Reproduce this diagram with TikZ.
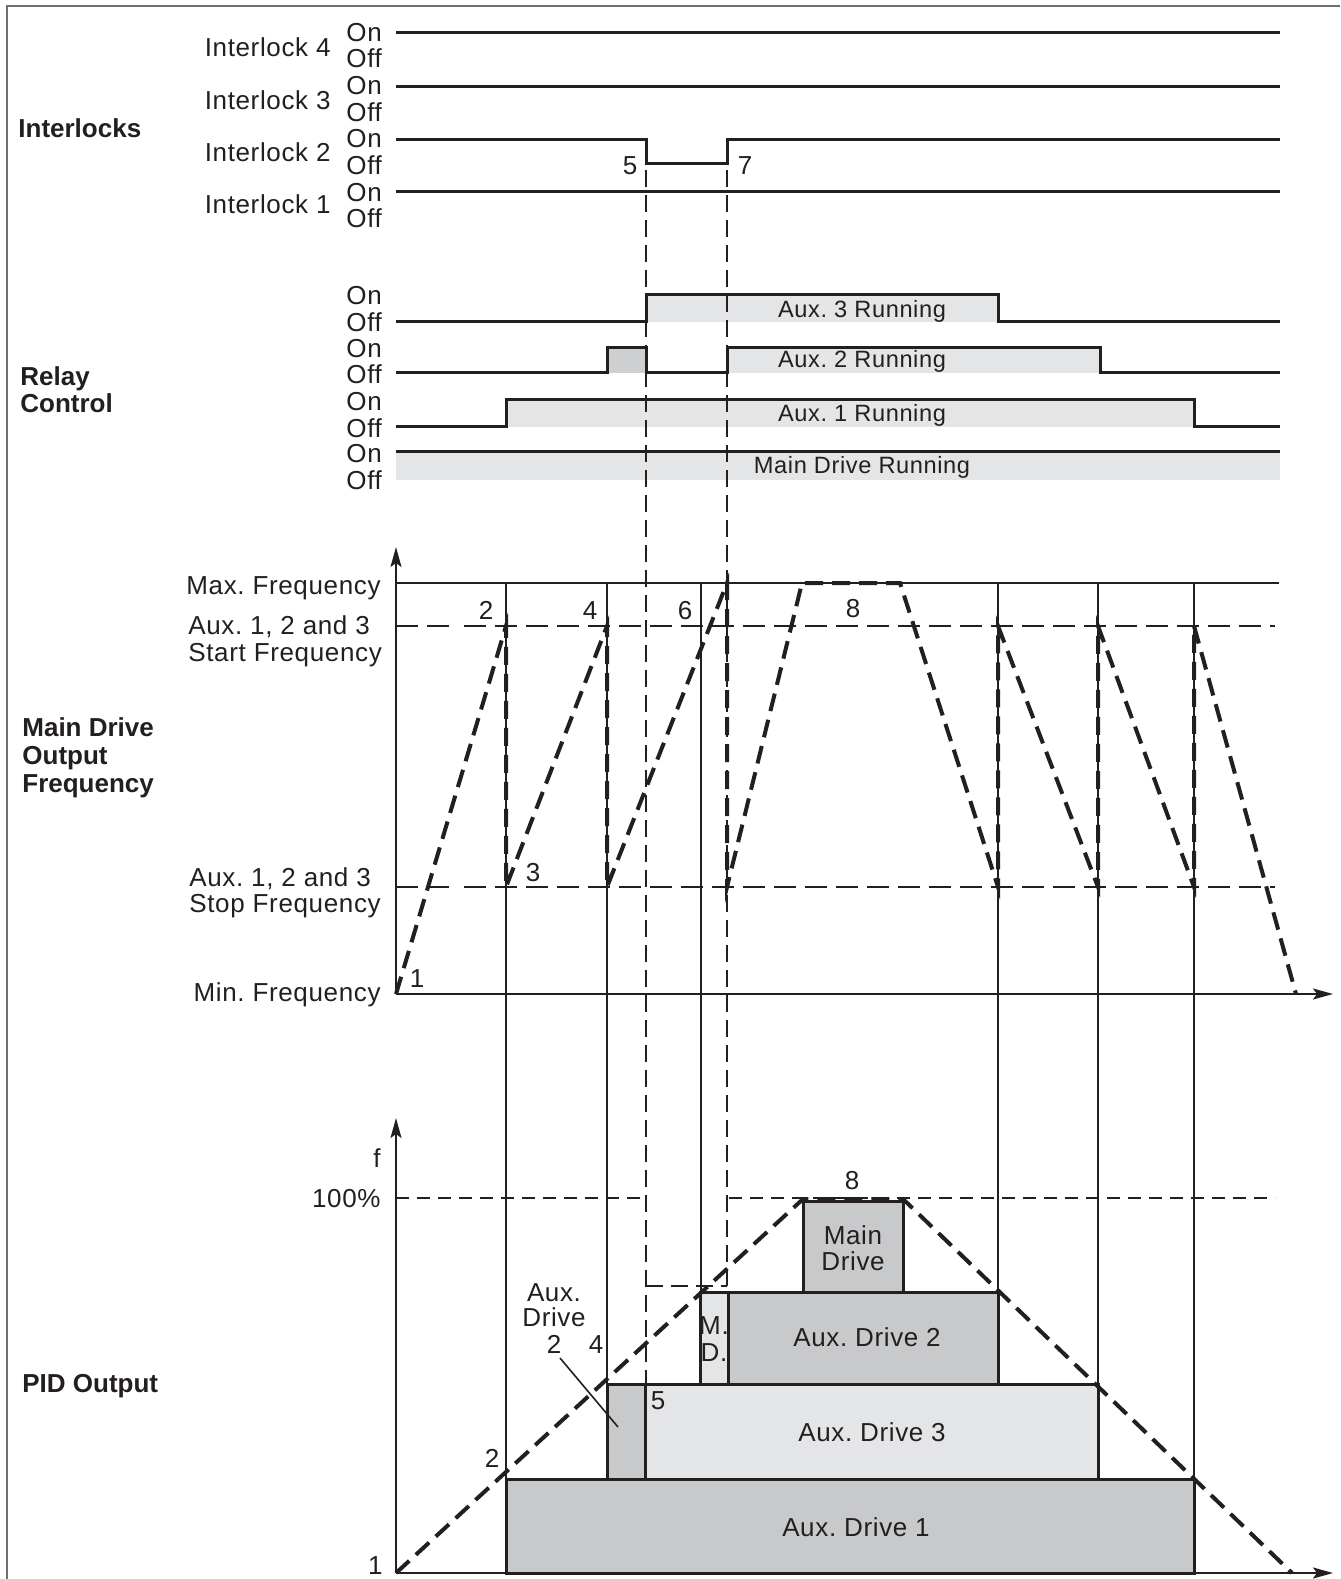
\documentclass[tikz,border=0pt]{standalone}
\usepackage{fontspec}
\setmainfont{Liberation Sans}[LetterSpace=2.5,BoldFeatures={LetterSpace=0}]
\usetikzlibrary{arrows.meta}
\definecolor{ink}{HTML}{231F20}
\definecolor{lgray}{HTML}{E4E5E7}
\definecolor{mgray}{HTML}{C8C9CB}
\definecolor{framec}{HTML}{6D6E70}
\begin{document}
\frenchspacing
\begin{tikzpicture}[x=0.5pt,y=-0.5pt,
  txt/.style={font=\fontsize{13}{15}\selectfont, text=ink, inner sep=0pt},
  btxt/.style={font=\fontsize{13}{15}\selectfont\bfseries, text=ink, inner sep=0pt},
  stxt/.style={font=\fontsize{11.8}{14}\selectfont, text=ink, inner sep=0pt},
  sig/.style={draw=ink, line width=1.5pt, line join=miter},
  gridline/.style={draw=ink, line width=0.65pt},
  axis/.style={draw=ink, line width=1pt, -{Stealth[length=10pt,width=5.5pt,inset=2pt]}},
  ramp/.style={draw=ink, line width=2pt, dash pattern=on 9pt off 4.5pt},
  guide/.style={draw=ink, line width=0.9pt, dash pattern=on 8.5pt off 4pt},
  level/.style={draw=ink, line width=0.75pt, dash pattern=on 11pt off 4.5pt},
  pct/.style={draw=ink, line width=0.75pt, dash pattern=on 6.5pt off 4pt},
  box/.style={draw=ink, line width=1.5pt},
]
\useasboundingbox (0,0) rectangle (1340,1579);
\fill[white] (0,0) rectangle (1340,1579);
% frame
\draw[framec, line width=1pt] (7,1579) -- (7,6) -- (1340,6);

% ---------------- Interlocks ----------------
\draw[sig] (396,32) -- (1280,32);
\draw[sig] (396,86.7) -- (1280,86.7);
\draw[sig] (396,139) -- (646,139) -- (646,163) -- (727,163) -- (727,139) -- (1280,139);
\draw[sig] (396,191) -- (1280,191);

\node[btxt, anchor=base west] (tInterlocks) at (18,137) {Interlocks};
\node[txt, anchor=base east] (tIL4) at (331,56) {Interlock 4};
\node[txt, anchor=base east] (tIL3) at (331,109) {Interlock 3};
\node[txt, anchor=base east] (tIL2) at (331,161) {Interlock 2};
\node[txt, anchor=base east] (tIL1) at (331,213) {Interlock 1};
\foreach \n/\y in {a/41, b/94, c/147, d/201, e/304, f/357, g/410, h/462}
  \node[txt, anchor=base west] (on\n) at (346,\y) {On};
\foreach \n/\y in {a/67, b/121, c/174, d/227, e/331, f/383, g/437, h/489}
  \node[txt, anchor=base west] (off\n) at (346,\y) {Off};
\node[txt, anchor=base] (n5a) at (630,174) {5};
\node[txt, anchor=base] (n7a) at (745,174) {7};

% ---------------- Relay control ----------------
\fill[lgray] (646,294) rectangle (998,322);
\fill[mgray!80!lgray] (607,347) rectangle (646,373);
\fill[lgray] (727,347) rectangle (1100,373);
\fill[lgray] (506,399.5) rectangle (1194,427);
\fill[lgray] (396,451) rectangle (1280,479.5);
\draw[sig] (396,321) -- (646,321) -- (646,294) -- (998,294) -- (998,321) -- (1280,321);
\draw[sig] (396,372) -- (607,372) -- (607,347) -- (646,347) -- (646,372) -- (727,372) -- (727,347) -- (1100,347) -- (1100,372) -- (1280,372);
\draw[sig] (396,426) -- (506,426) -- (506,399.5) -- (1194,399.5) -- (1194,426) -- (1280,426);
\draw[sig] (396,451) -- (1280,451);

\node[btxt, anchor=base west] (tRelay) at (20,385) {Relay};
\node[btxt, anchor=base west] (tControl) at (20,412) {Control};
\node[stxt, anchor=base] (tA3R) at (862,317.5) {Aux. 3 Running};
\node[stxt, anchor=base] (tA2R) at (862,367.5) {Aux. 2 Running};
\node[stxt, anchor=base] (tA1R) at (862,421.5) {Aux. 1 Running};
\node[stxt, anchor=base] (tMDR) at (862,473.5) {Main Drive Running};

% ---------------- Guides ----------------
\draw[guide] (646,170) -- (646,1384);
\draw[guide] (727,170) -- (727,1286);
\draw[guide] (646,1286) -- (727,1286);

% ---------------- Main drive output frequency ----------------
\foreach \x in {506,607,701,998,1098,1194}
  \draw[gridline] (\x,583) -- (\x,1573);
\draw[gridline] (396,583) -- (1279,583);
\draw[level] (396,626) -- (455,626);
\draw[level] (464,626) -- (1275,626);
\draw[level] (396,887) -- (455,887);
\draw[level] (464,887) -- (1275,887);
\draw[axis] (396,994) -- (396,547);
\draw[axis] (396,994) -- (1333,994);
\draw[ramp] (396,994) -- (506,626) -- (506,887) -- (607,626) -- (607,887) -- (727,583) -- (727,887)
  -- (802,583) -- (900,583) -- (998,887) -- (998,626) -- (1098,887) -- (1098,626) -- (1194,887)
  -- (1194,626) -- (1296,994);

\node[btxt, anchor=base west] (tMD1) at (22,736) {Main Drive};
\node[btxt, anchor=base west] (tMD2) at (22,764) {Output};
\node[btxt, anchor=base west] (tMD3) at (22,792) {Frequency};
\node[txt, anchor=base east] (tMax) at (381,594) {Max. Frequency};
\node[txt, anchor=base west] (tSt1) at (188,634) {Aux. 1, 2 and 3};
\node[txt, anchor=base west] (tSt2) at (188,661) {Start Frequency};
\node[txt, anchor=base west] (tSp1) at (189,886) {Aux. 1, 2 and 3};
\node[txt, anchor=base west] (tSp2) at (189,912) {Stop Frequency};
\node[txt, anchor=base east] (tMin) at (381,1001) {Min. Frequency};
\node[txt, anchor=base] (f1) at (417,987) {1};
\node[txt, anchor=base] (f2) at (486,619) {2};
\node[txt, anchor=base] (f3) at (533,881) {3};
\node[txt, anchor=base] (f4) at (590,619) {4};
\node[txt, anchor=base] (f6) at (685,619) {6};
\node[txt, anchor=base] (f8) at (853,617) {8};

% ---------------- PID output ----------------
\draw[pct] (396,1198) -- (646,1198);
\draw[pct] (729,1198) -- (1275,1198);
\draw[box, fill=mgray] (506,1479) rectangle (1194,1573);
\draw[box, fill=lgray] (645,1384) rectangle (1098,1479);
\draw[box, fill=mgray] (607,1384) rectangle (645,1479);
\draw[box, fill=mgray] (728,1292) rectangle (998,1384);
\draw[box, fill=lgray] (700,1292) rectangle (728,1384);
\draw[box, fill=mgray] (803,1201) rectangle (903,1292);
\draw[axis] (396,1573) -- (396,1118);
\draw[axis] (396,1573) -- (1333,1573);
\draw[ramp] (396,1573) -- (803,1199) -- (903,1199) -- (1292,1573);
\draw[draw=ink, line width=0.8pt] (560,1358) -- (618,1427);

\node[btxt, anchor=base west] (tPID) at (22,1392) {PID Output};
\node[txt, anchor=base east] (tf) at (381,1167) {f};
\node[txt, anchor=base east] (t100) at (381,1207) {100\%};
\node[txt, anchor=base east] (p1) at (383,1574) {1};
\node[txt, anchor=base] (p2) at (492,1467) {2};
\node[txt, anchor=base] (p8) at (852,1189) {8};
\node[txt, anchor=base] (p5) at (658,1409) {5};
\node[txt, anchor=base] (pAux) at (554,1301) {Aux.};
\node[txt, anchor=base] (pDrive) at (554,1326) {Drive};
\node[txt, anchor=base] (p2b) at (554,1353) {2};
\node[txt, anchor=base] (p4) at (596,1353) {4};
\node[txt, anchor=base] (pM) at (714,1334) {M.};
\node[txt, anchor=base] (pD) at (714,1361) {D.};
\node[txt, anchor=base] (bAD1) at (856,1536) {Aux. Drive 1};
\node[txt, anchor=base] (bAD3) at (872,1441) {Aux. Drive 3};
\node[txt, anchor=base] (bAD2) at (867,1346) {Aux. Drive 2};
\node[txt, anchor=base] (bMain) at (853,1244) {Main};
\node[txt, anchor=base] (bDrive) at (853,1270) {Drive};
\end{tikzpicture}
\end{document}
